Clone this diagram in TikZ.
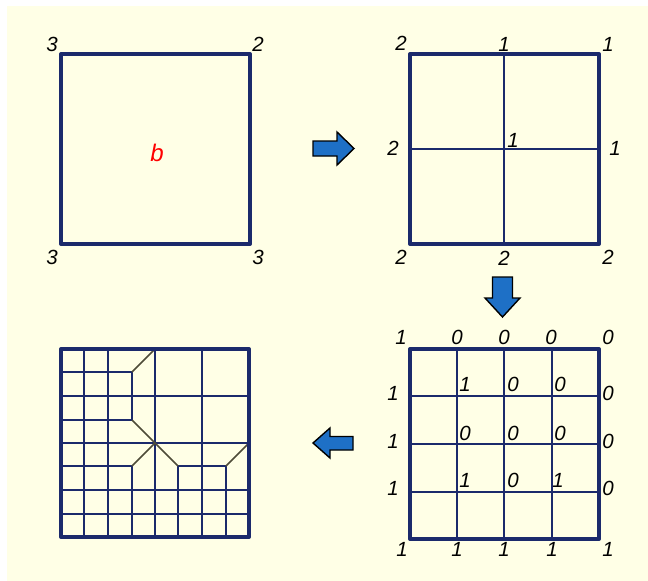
\documentclass[tikz,border=0pt]{standalone}
\usepackage{fontspec}
\newfontfamily\labfont{Liberation Sans}
\definecolor{bgyellow}{HTML}{FFFFE6}
\definecolor{navy}{HTML}{1B2A6B}
\definecolor{diag}{HTML}{4E4C38}
\definecolor{arrowblue}{HTML}{1E70C6}
\newcommand\gx[1]{\fpeval{round(61+23.5*(#1))}}
\newcommand\gy[1]{\fpeval{round(349+23.5*(#1))}}
\tikzset{
  lab/.style={font=\labfont\itshape\fontsize{20.5}{20.5}\selectfont, inner sep=0pt, text=black},
  outer/.style={draw=navy, line width=4pt, line join=round},
  inner/.style={draw=navy, line width=2pt},
  diagline/.style={draw=diag, line width=1.5pt},
  blockarrow/.style={fill=arrowblue, draw=black, line width=1.4pt, line join=miter}
}
\begin{document}
\begin{tikzpicture}[x=1pt,y=-1pt]
\useasboundingbox (0,0) rectangle (648,581);
\fill[white] (0,0) rectangle (648,581);
\fill[bgyellow] (7,6) rectangle (648,581);

% Panel 1
\draw[outer] (61,54) rectangle (250,244);
\node[lab] (p1tl) at (52,44) {3};
\node[lab] (p1tr) at (258,44) {2};
\node[lab] (p1bl) at (52,257) {3};
\node[lab] (p1br) at (258,257) {3};
\node[lab, text=red, font=\labfont\itshape\fontsize{24}{24}\selectfont] (p1b) at (157,153) {b};

% Panel 2
\draw[inner] (504,54) -- (504,244);
\draw[inner] (410,149) -- (599,149);
\draw[outer] (410,54) rectangle (599,244);
\node[lab] (p2tl) at (401,43) {2};
\node[lab] (p2tm) at (504,44) {1};
\node[lab] (p2tr) at (608,44) {1};
\node[lab] (p2ml) at (393,148) {2};
\node[lab] (p2c) at (513,140) {1};
\node[lab] (p2mr) at (615,148) {1};
\node[lab] (p2bl) at (401,257) {2};
\node[lab] (p2bm) at (504,258) {2};
\node[lab] (p2br) at (608,257) {2};

% Panel 3
\foreach \xx in {457,504,552} {
  \draw[inner] (\xx,349) -- (\xx,539);
}
\foreach \yy in {396,444,492} {
  \draw[inner] (410,\yy) -- (599,\yy);
}
\draw[outer] (410,349) rectangle (599,539);
\node[lab] (q00) at (401,337) {1};
\node[lab] (q10) at (457,337) {0};
\node[lab] (q20) at (504,337) {0};
\node[lab] (q30) at (551,337) {0};
\node[lab] (q40) at (608,337) {0};
\node[lab] (q01) at (393,393) {1};
\node[lab] (q11) at (465,384) {1};
\node[lab] (q21) at (513,384) {0};
\node[lab] (q31) at (560,384) {0};
\node[lab] (q41) at (608,393) {0};
\node[lab] (q02) at (393,441) {1};
\node[lab] (q12) at (465,433) {0};
\node[lab] (q22) at (513,433) {0};
\node[lab] (q32) at (560,433) {0};
\node[lab] (q42) at (608,441) {0};
\node[lab] (q03) at (393,488) {1};
\node[lab] (q13) at (465,480) {1};
\node[lab] (q23) at (513,480) {0};
\node[lab] (q33) at (558,480) {1};
\node[lab] (q43) at (608,488) {0};
\node[lab] (q04) at (402,549) {1};
\node[lab] (q14) at (457,549) {1};
\node[lab] (q24) at (504,549) {1};
\node[lab] (q34) at (552,549) {1};
\node[lab] (q44) at (608,549) {1};

% Panel 4 (fine grid 8x8)
% verticals
\draw[inner] (\gx{1},\gy{0}) -- (\gx{1},\gy{8});
\draw[inner] (\gx{2},\gy{0}) -- (\gx{2},\gy{8});
\draw[inner] (\gx{3},\gy{1}) -- (\gx{3},\gy{3});
\draw[inner] (\gx{3},\gy{5}) -- (\gx{3},\gy{8});
\draw[inner] (\gx{4},\gy{0}) -- (\gx{4},\gy{8});
\draw[inner] (\gx{5},\gy{5}) -- (\gx{5},\gy{8});
\draw[inner] (\gx{6},\gy{0}) -- (\gx{6},\gy{8});
\draw[inner] (\gx{7},\gy{5}) -- (\gx{7},\gy{8});
% horizontals
\draw[inner] (\gx{0},\gy{1}) -- (\gx{3},\gy{1});
\draw[inner] (\gx{0},\gy{2}) -- (\gx{8},\gy{2});
\draw[inner] (\gx{0},\gy{3}) -- (\gx{3},\gy{3});
\draw[inner] (\gx{0},\gy{4}) -- (\gx{8},\gy{4});
\draw[inner] (\gx{0},\gy{5}) -- (\gx{3},\gy{5});
\draw[inner] (\gx{5},\gy{5}) -- (\gx{7},\gy{5});
\draw[inner] (\gx{0},\gy{6}) -- (\gx{8},\gy{6});
\draw[inner] (\gx{0},\gy{7}) -- (\gx{8},\gy{7});
% transition diagonals
\draw[diagline] (\gx{3},\gy{1}) -- (\gx{4},\gy{0});
\draw[diagline] (\gx{3},\gy{3}) -- (\gx{4},\gy{4});
\draw[diagline] (\gx{3},\gy{5}) -- (\gx{4},\gy{4});
\draw[diagline] (\gx{4},\gy{4}) -- (\gx{5},\gy{5});
\draw[diagline] (\gx{7},\gy{5}) -- (\gx{8},\gy{4});
\draw[outer] (\gx{0},\gy{0}) rectangle (\gx{8},\gy{8});

% Arrows
\draw[blockarrow] (313,141) -- (337,141) -- (337,132) -- (354,148.5) -- (337,165) -- (337,156) -- (313,156) -- cycle;
\draw[blockarrow] (492.5,277) -- (512.5,277) -- (512.5,298) -- (520,298) -- (502.5,317) -- (485,298) -- (492.5,298) -- cycle;
\draw[blockarrow] (353,436.5) -- (330,436.5) -- (330,428) -- (313,443) -- (330,458) -- (330,450) -- (353,450) -- cycle;
\end{tikzpicture}
\end{document}
